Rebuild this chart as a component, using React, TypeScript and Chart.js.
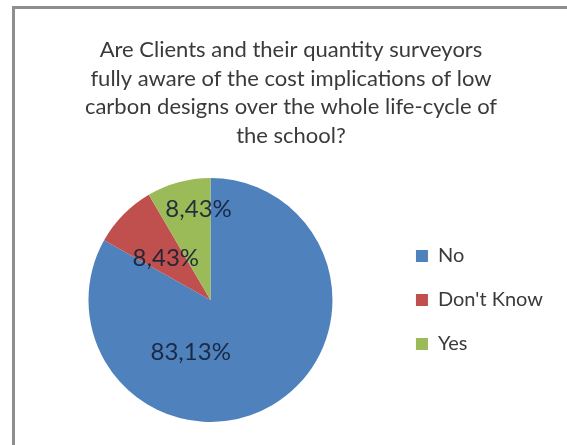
import { useEffect, useRef } from "react";
import { Chart, registerables } from "chart.js";

Chart.register(...registerables);

// Survey answers and their shares (percent)
const CATEGORIES = ["No", "Don't Know", "Yes"];
const SHARES = [83.13, 8.43, 8.43];
const SLICE_COLORS = ["#4f81bd", "#c0504d", "#9bbb59"];

const TITLE_LINES = [
  "Are Clients and their quantity surveyors",
  "fully aware of the cost implications of low",
  "carbon designs over the whole life-cycle of",
  "the school?",
];

// Where each percentage label sits: angular shift (degrees) from the slice's
// middle and distance from the centre as a fraction of the radius.
const LABEL_SHIFT_DEG = [51, -1.5, 7.7];
const LABEL_RADIUS_FRAC = [0.46, 0.5, 0.75];

const FONT = "Lato, 'Open Sans', sans-serif";

const formatShare = (v: number) => v.toFixed(2).replace(".", ",") + "%";

const sliceLabels = {
  id: "sliceLabels",
  afterDatasetsDraw(chart: Chart) {
    const meta = chart.getDatasetMeta(0);
    const ctx = chart.ctx;
    ctx.save();
    ctx.font = `normal 24px ${FONT}`;
    ctx.fillStyle = "rgba(20, 32, 54, 0.9)";
    ctx.textAlign = "center";
    ctx.textBaseline = "middle";
    meta.data.forEach((el: any, i: number) => {
      const { x, y, startAngle, endAngle, outerRadius } = el.getProps(
        ["x", "y", "startAngle", "endAngle", "outerRadius"],
        true
      );
      const mid = (startAngle + endAngle) / 2 + (LABEL_SHIFT_DEG[i] * Math.PI) / 180;
      const r = outerRadius * LABEL_RADIUS_FRAC[i];
      ctx.fillText(formatShare(SHARES[i]), x + Math.cos(mid) * r, y + Math.sin(mid) * r);
    });
    ctx.restore();
  },
};

export default function App() {
  const canvasRef = useRef<HTMLCanvasElement | null>(null);

  useEffect(() => {
    if (!canvasRef.current) return;
    const chart = new Chart(canvasRef.current, {
      type: "pie",
      data: {
        labels: CATEGORIES,
        datasets: [
          {
            data: SHARES,
            backgroundColor: SLICE_COLORS,
            borderWidth: 0,
          },
        ],
      },
      options: {
        responsive: false,
        animation: false,
        layout: { padding: { left: 29, right: 14, top: 0, bottom: 23 } },
        plugins: {
          title: {
            display: true,
            text: TITLE_LINES,
            color: "#3a3a3a",
            font: { family: FONT, size: 22, weight: "normal", lineHeight: 28.7 / 22 },
            padding: { top: 35.65, bottom: 27.55 },
          },
          legend: {
            position: "right",
            fullSize: false,
            labels: {
              boxWidth: 12,
              boxHeight: 12,
              padding: 24,
              color: "#3a3a3a",
              font: { family: FONT, size: 20 },
            },
          },
          tooltip: { enabled: false },
        },
      },
      plugins: [sliceLabels],
    });
    return () => chart.destroy();
  }, []);

  return (
    <div
      style={{
        position: "fixed",
        left: 0,
        top: 0,
        width: 567,
        height: 445,
        overflow: "hidden",
        background: "#ffffff",
      }}
    >
      <div
        style={{
          position: "absolute",
          left: 12,
          top: 6,
          width: 600,
          height: 480,
          borderLeft: "3px solid #8e8e8e",
          borderTop: "3px solid #8e8e8e",
          boxSizing: "border-box",
        }}
      />
      <canvas
        ref={canvasRef}
        width={567}
        height={445}
        style={{ position: "absolute", left: 0, top: 0, width: 567, height: 445 }}
      />
    </div>
  );
}
